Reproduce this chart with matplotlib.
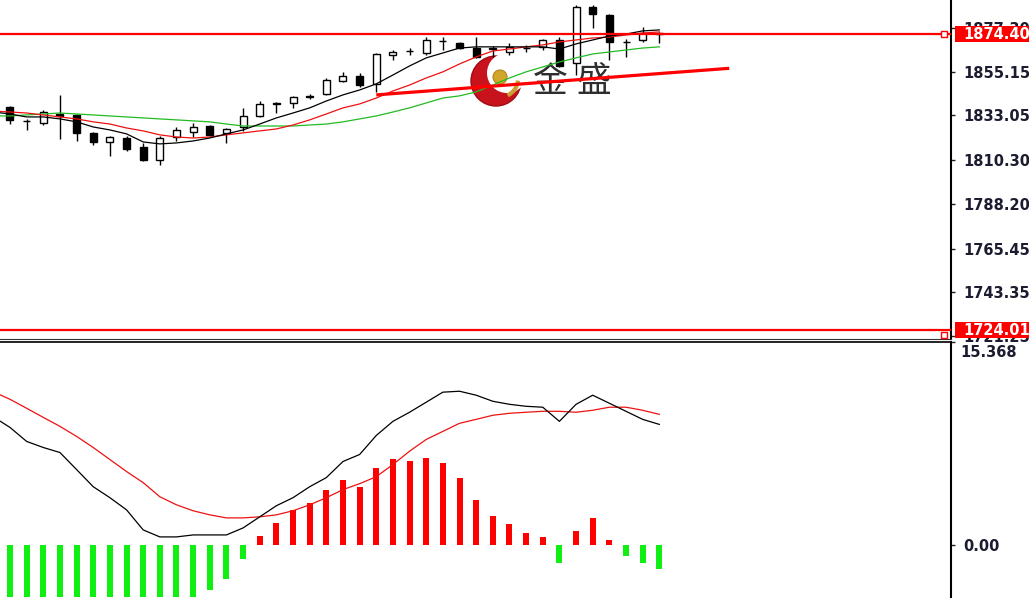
import numpy as np
import matplotlib.pyplot as plt
from matplotlib.patches import Rectangle, Circle, Arc
from matplotlib.transforms import blended_transform_factory, offset_copy

# candles, oldest first
opens = [1837.4, 1830.3, 1829.2, 1833.8, 1833.3, 1824.2, 1819.6, 1821.5, 1816.9, 1810.5,
         1822.1, 1824.7, 1827.7, 1824.2, 1827.2, 1832.8, 1839.0, 1839.4, 1842.6, 1844.0,
         1850.6, 1853.1, 1849.1, 1863.8, 1865.6, 1864.8, 1871.0, 1869.9, 1867.3, 1867.0,
         1865.3, 1867.2, 1867.9, 1871.4, 1859.7, 1888.2, 1884.1, 1870.5, 1871.4, 1874.6]
highs = [1837.9, 1831.3, 1835.8, 1843.5, 1833.8, 1824.7, 1822.4, 1822.4, 1818.9, 1822.4,
         1827.2, 1829.2, 1828.2, 1826.7, 1836.9, 1840.4, 1839.9, 1842.8, 1844.0, 1852.1,
         1855.2, 1854.6, 1864.8, 1866.3, 1867.3, 1872.9, 1872.9, 1870.4, 1872.9, 1868.5,
         1869.9, 1868.9, 1871.9, 1872.9, 1889.2, 1889.2, 1884.6, 1871.9, 1878.0, 1875.5]
lows = [1828.7, 1825.7, 1828.2, 1821.1, 1820.1, 1818.1, 1812.5, 1815.0, 1809.9, 1807.9,
        1820.0, 1822.0, 1822.4, 1819.2, 1825.2, 1832.3, 1834.3, 1836.9, 1841.4, 1843.5,
        1850.1, 1847.5, 1845.0, 1861.2, 1863.8, 1863.8, 1866.3, 1866.8, 1862.3, 1862.8,
        1863.8, 1865.3, 1866.3, 1857.7, 1853.6, 1877.5, 1861.2, 1862.8, 1870.4, 1869.9]
closes = [1830.8, 1830.0, 1834.8, 1832.6, 1824.2, 1819.6, 1821.9, 1815.8, 1810.5, 1821.5,
          1825.7, 1827.2, 1823.2, 1826.2, 1832.8, 1838.9, 1839.4, 1842.5, 1842.9, 1851.1,
          1853.1, 1848.5, 1864.3, 1865.3, 1865.9, 1871.4, 1870.7, 1867.3, 1862.8, 1867.3,
          1867.9, 1867.4, 1871.4, 1858.2, 1888.2, 1884.6, 1870.4, 1870.3, 1874.9, 1874.4]

# moving averages, starting one bar before the first candle
fast_ma = [1834.8, 1833.8, 1832.3, 1832.3, 1831.3, 1829.8, 1827.2, 1825.7, 1823.7, 1819.6,
           1818.6, 1819.1, 1820.1, 1821.6, 1823.7, 1825.7, 1828.7, 1831.8, 1834.3, 1836.9,
           1840.4, 1843.5, 1846.0, 1849.1, 1853.6, 1858.2, 1862.3, 1864.8, 1867.3, 1867.9,
           1867.9, 1867.9, 1867.9, 1867.9, 1866.8, 1869.4, 1871.4, 1873.4, 1874.4, 1876.0, 1876.5]
mid_ma = [1835.3, 1834.8, 1834.3, 1833.3, 1832.3, 1831.3, 1829.8, 1828.7, 1826.7, 1825.2,
          1823.2, 1822.1, 1821.6, 1822.1, 1823.2, 1824.2, 1825.2, 1826.2, 1828.2, 1830.8,
          1833.8, 1836.9, 1838.9, 1841.9, 1845.5, 1848.5, 1852.1, 1855.2, 1859.2, 1862.8,
          1865.8, 1866.8, 1867.9, 1868.9, 1870.4, 1871.4, 1872.4, 1872.9, 1873.9, 1874.9, 1875.5]
slow_ma = [1832.8, 1832.8, 1833.3, 1833.8, 1834.3, 1833.8, 1833.3, 1832.8, 1832.3, 1831.8,
           1831.3, 1830.8, 1830.3, 1829.8, 1828.7, 1827.7, 1827.7, 1827.7, 1827.7, 1828.2,
           1828.7, 1829.8, 1831.3, 1832.8, 1834.8, 1836.9, 1839.4, 1841.9, 1843.0, 1845.0,
           1848.5, 1852.1, 1855.2, 1857.7, 1860.2, 1862.3, 1864.3, 1865.3, 1866.3, 1867.3, 1867.9]

price_ticks = [1721.25, 1743.35, 1765.45, 1788.20, 1810.30, 1833.05, 1855.15, 1877.30]
bid_level = 1874.40
low_level = 1724.01
trend_x = [22, 43.2]
trend_y = [1843.5, 1857.0]

# MACD
macd_hist = [-4.6, -5.0, -4.6, -4.3, -5.0, -5.9, -5.8, -5.8, -7.0, -6.1,
             -4.9, -4.0, -3.42, -2.59, -1.07, 0.68, 1.67, 2.66, 3.20, 4.19,
             4.95, 4.41, 5.86, 6.54, 6.32, 6.62, 6.24, 5.10, 3.42, 2.21,
             1.60, 0.91, 0.61, -1.37, 1.07, 2.05, 0.38, -0.84, -1.37, -1.83]
macd_main = [9.7, 8.9, 7.84, 7.38, 7.00, 5.71, 4.41, 3.58, 2.66, 1.14, 0.61,
             0.61, 0.76, 0.76, 0.76, 1.29, 2.13, 2.97, 3.58, 4.41, 5.10,
             6.32, 6.85, 8.29, 9.36, 10.05, 10.81, 11.57, 11.64, 11.34, 10.88,
             10.65, 10.50, 10.43, 9.36, 10.65, 11.34, 10.73, 10.12, 9.51, 9.13]
macd_signal = [11.6, 11.03, 10.35, 9.66, 8.98, 8.22, 7.38, 6.47, 5.56, 4.72, 3.65,
               3.04, 2.59, 2.28, 2.05, 2.05, 2.13, 2.28, 2.59, 3.04, 3.58,
               4.19, 4.64, 5.17, 6.09, 7.1, 7.99, 8.6, 9.21, 9.51, 9.82,
               9.97, 10.05, 10.12, 10.12, 10.05, 10.20, 10.43, 10.43, 10.20, 9.89]
macd_top = 15.368

W, H = 1029, 602
fig = plt.figure(figsize=(W / 100, H / 100), dpi=100, facecolor="white")

# watermark logo behind the chart
lg = fig.add_axes([440 / W, 1 - 115 / H, 190 / W, 70 / H], zorder=0)
lg.set_xlim(440, 630)
lg.set_ylim(115, 45)
lg.axis("off")
lg.add_patch(Circle((496, 81), 25, fc="#c8121c", ec="#a00c14", lw=1))
lg.add_patch(Circle((507, 73), 20, fc="white", ec="none"))
lg.add_patch(Circle((500, 77), 7, fc="#d2a52c", ec="#b08418", lw=0.8))
lg.add_patch(Arc((500, 79), 36, 36, theta1=5, theta2=65, color="#c9a032", lw=3))
lg.text(550, 82, "金", family=["Noto Sans CJK SC"], fontsize=25, color="#2e2e2e",
        ha="center", va="center")
lg.text(594, 82, "盛", family=["Noto Sans CJK SC"], fontsize=25, color="#2e2e2e",
        ha="center", va="center")

ax1 = fig.add_axes([0, 263 / H, 951 / W, 339 / H], zorder=1)
ax2 = fig.add_axes([0, 5 / H, 951 / W, 255 / H], zorder=1)
for ax in (ax1, ax2):
    ax.patch.set_visible(False)
    ax.set_xlim(-0.6, 56.52)
    ax.set_xticks([])
    ax.yaxis.tick_right()
    ax.tick_params(axis="y", length=3, width=1, pad=6, labelsize=10.5,
                   labelcolor="#1c1c30", color="#222222")
    ax.spines["left"].set_visible(False)
    ax.spines["right"].set_linewidth(1.5)
ax1.spines["top"].set_visible(False)
ax1.spines["bottom"].set_color("#333333")
ax2.spines["bottom"].set_visible(False)
ax2.spines["top"].set_linewidth(1.2)

# candles
idx = np.arange(len(opens))
bw = 0.42
for i in idx:
    o, h, l, c = opens[i], highs[i], lows[i], closes[i]
    ax1.vlines(i, l, h, color="black", lw=1, zorder=3)
    lo = min(o, c)
    ht = max(abs(c - o), 0.3)
    fc = "white" if c >= o else "black"
    ax1.add_patch(Rectangle((i - bw / 2, lo), bw, ht, fc=fc, ec="black", lw=1, zorder=4))

ma_idx = np.arange(-1, len(opens))
ax1.plot(ma_idx, slow_ma, color="#22bb22", lw=0.9, zorder=5)
ax1.plot(ma_idx, mid_ma, color="#ee1111", lw=0.9, zorder=5)
ax1.plot(ma_idx, fast_ma, color="black", lw=0.9, zorder=5)

ax1.axhline(bid_level, color="#ff0000", lw=1.6, zorder=6)
ax1.axhline(low_level, color="#ff0000", lw=1.6, zorder=6)
ax1.plot(trend_x, trend_y, color="#ff0000", lw=2.3, zorder=6, solid_capstyle="butt")
ax1.plot([56.1], [bid_level], marker="s", ms=4, mfc="white", mec="red", mew=1, zorder=7)
ax1.plot([56.1], [low_level - 2.5], marker="s", ms=4, mfc="white", mec="red", mew=1, zorder=7)

ax1.set_ylim(1719.5, 1891.7)
ax1.set_yticks(price_ticks)
ax1.set_yticklabels([f"{v:.2f}" for v in price_ticks], fontweight="bold")

tr1 = blended_transform_factory(ax1.transAxes, ax1.transData)
for lvl in (bid_level, low_level):
    ax1.add_patch(Rectangle((955 / 951, lvl - 4.1), 0.1, 8.2, transform=tr1,
                            fc="#ff0000", ec="none", clip_on=False, zorder=9))
    ax1.text(963 / 951, lvl, f"{lvl:.2f}", transform=tr1, ha="left", va="center",
             color="white", fontsize=10.5, fontweight="bold", clip_on=False, zorder=10)

# MACD panel
colors = ["#ff0000" if v >= 0 else "#11ee11" for v in macd_hist]
ax2.bar(idx, macd_hist, width=0.36, color=colors, zorder=3)
ax2.plot(ma_idx, macd_signal, color="#ee1111", lw=0.9, zorder=4)
ax2.plot(ma_idx, macd_main, color="black", lw=0.9, zorder=4)
ax2.set_ylim(-3.94, macd_top)
ax2.set_yticks([0, macd_top])
ax2.set_yticklabels(["0.00", ""], fontweight="bold")
tr2 = offset_copy(blended_transform_factory(ax2.transAxes, ax2.transData),
                  fig=fig, x=0, y=-3, units="dots")
ax2.text(960 / 951, macd_top, f"{macd_top:.3f}", transform=tr2, ha="left", va="top",
         color="#1c1c30", fontsize=10.5, fontweight="bold", clip_on=False)

fig.savefig("out.png", dpi=100, facecolor="white")
